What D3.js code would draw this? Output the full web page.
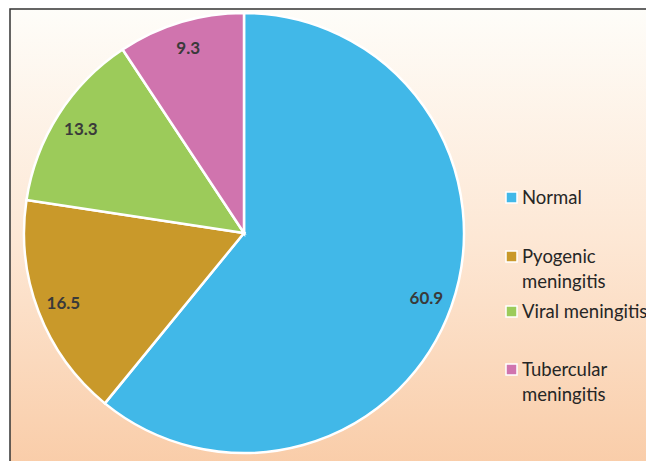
<!DOCTYPE html>
<html>
<head>
<meta charset="utf-8">
<script src="https://cdn.jsdelivr.net/npm/d3@7"></script>
<style>
  body { margin: 0; background: #fff; }
  svg { display: block; }
</style>
</head>
<body>
<svg id="chart" width="646" height="461"></svg>
<script>
// data
var categories = ["Normal", "Pyogenic meningitis", "Viral meningitis", "Tubercular meningitis"];
var values = [60.9, 16.5, 13.3, 9.3];
var legendLines = [["Normal"], ["Pyogenic", "meningitis"], ["Viral meningitis"], ["Tubercular", "meningitis"]];
var colors = ["#41b8e8", "#c9992a", "#9ccb5a", "#d074ae"];

var svg = d3.select("#chart");

// background gradient
var defs = svg.append("defs");
var grad = defs.append("linearGradient").attr("id", "bg")
    .attr("x1", 0).attr("y1", 0).attr("x2", 0).attr("y2", 1);
grad.append("stop").attr("offset", "0%").attr("stop-color", "#fefdf9");
grad.append("stop").attr("offset", "50%").attr("stop-color", "#fde7d4");
grad.append("stop").attr("offset", "100%").attr("stop-color", "#f9cba6");

svg.append("rect")
   .attr("x", 10).attr("y", 9)
   .attr("width", 646).attr("height", 470)
   .attr("fill", "url(#bg)")
   .attr("stroke", "#333")
   .attr("stroke-width", 1.5);

var cx = 244, cy = 233, r = 220;
var g = svg.append("g").attr("transform", "translate(" + cx + "," + cy + ")");

var pie = d3.pie().sort(null).value(function(d) { return d; });
var arc = d3.arc().innerRadius(0).outerRadius(r);
var labelArc = d3.arc().innerRadius(r * 0.88).outerRadius(r * 0.88);

var arcs = pie(values);

g.selectAll("path")
 .data(arcs)
 .enter().append("path")
 .attr("d", arc)
 .attr("fill", function(d, i) { return colors[i]; })
 .attr("stroke", "#fff")
 .attr("stroke-width", 2.5);

g.selectAll(".lbl")
 .data(arcs)
 .enter().append("text")
 .attr("class", "lbl")
 .attr("transform", function(d) { return "translate(" + labelArc.centroid(d) + ")"; })
 .attr("text-anchor", "middle")
 .attr("dy", "0.35em")
 .attr("font-family", "Lato, 'Open Sans', sans-serif")
 .attr("font-weight", "bold")
 .attr("font-size", "17px")
 .attr("fill", "#3a3a3a")
 .text(function(d) { return d.data; });

// legend
var legendY = [198, 257, 312, 370];
var leg = svg.append("g");
legendLines.forEach(function(lines, i) {
    leg.append("rect")
       .attr("x", 506).attr("y", legendY[i] - 6)
       .attr("width", 11).attr("height", 11)
       .attr("fill", colors[i])
       .attr("stroke", "#fff").attr("stroke-width", 1.5);
    var t = leg.append("text")
       .attr("y", legendY[i])
       .attr("font-family", "Lato, 'Open Sans', sans-serif")
       .attr("font-size", "18.5px")
       .attr("fill", "#262626");
    lines.forEach(function(s, j) {
        t.append("tspan").attr("x", 522).attr("dy", j === 0 ? "0.35em" : "1.3em").text(s);
    });
});
</script>
</body>
</html>
